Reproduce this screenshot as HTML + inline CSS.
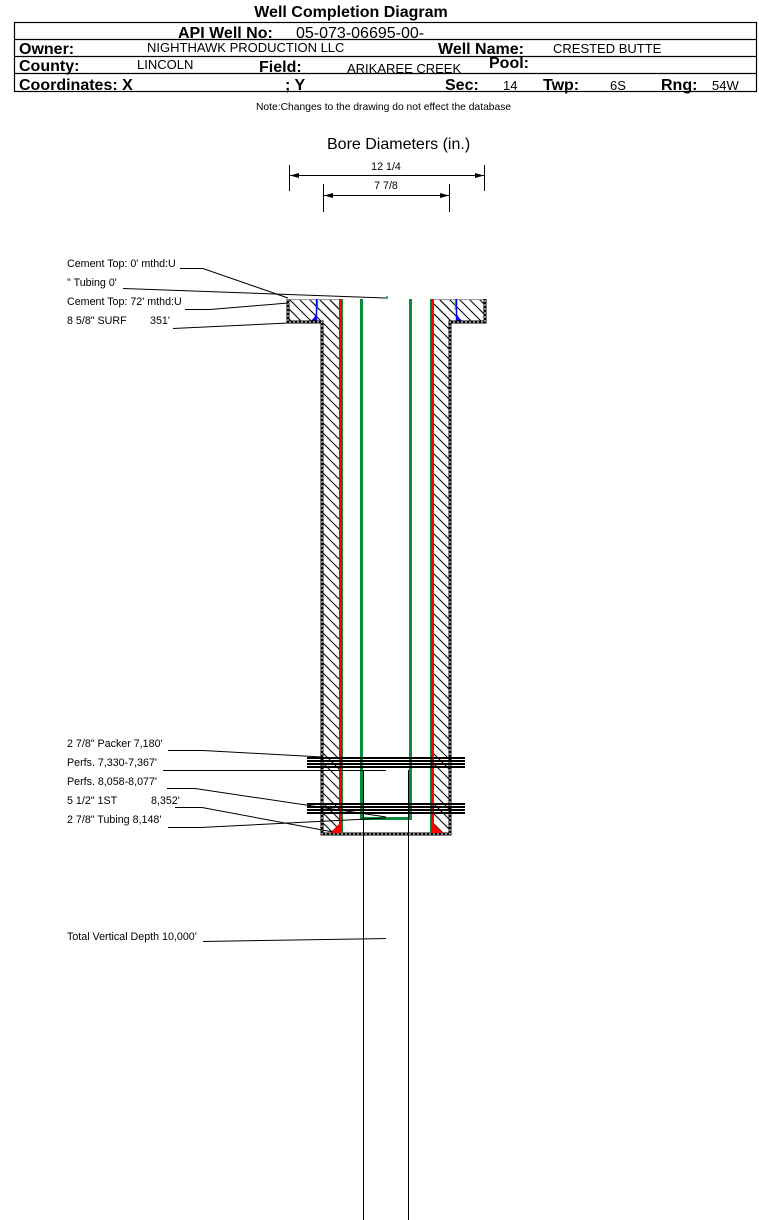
<!DOCTYPE html>
<html>
<head>
<meta charset="utf-8">
<style>
  html,body{margin:0;padding:0;background:#fff;}
  svg{display:block;}
  text{font-family:"Liberation Sans",Arial,sans-serif;fill:#000;}
  .b{font-weight:bold;font-size:16px;}
  .v{font-size:13px;}
  .l{font-size:10.7px;}
</style>
</head>
<body>
<svg width="759" height="1220" viewBox="0 0 759 1220" xmlns="http://www.w3.org/2000/svg">
  <defs>
    <pattern id="h" patternUnits="userSpaceOnUse" width="10" height="10">
      <path d="M0,0 L10,10 M-1,9 L1,11 M9,-1 L11,1" stroke="#000" stroke-width="1"/>
    </pattern>
    <marker id="al" markerWidth="10" markerHeight="6" refX="0" refY="3" orient="auto" markerUnits="userSpaceOnUse">
      <path d="M0,3 L9,0.5 L9,5.5 Z" fill="#000"/>
    </marker>
    <marker id="ar" markerWidth="10" markerHeight="6" refX="9" refY="3" orient="auto" markerUnits="userSpaceOnUse">
      <path d="M9,3 L0,0.5 L0,5.5 Z" fill="#000"/>
    </marker>
  </defs>

  <!-- Header -->
  <text x="351" y="17" class="b" text-anchor="middle">Well Completion Diagram</text>
  <rect x="14.5" y="22.5" width="742" height="69" fill="none" stroke="#000" stroke-width="1.2"/>
  <line x1="14.5" y1="39.5" x2="756.5" y2="39.5" stroke="#000" stroke-width="1.2"/>
  <line x1="14.5" y1="56.5" x2="756.5" y2="56.5" stroke="#000" stroke-width="1.2"/>
  <line x1="14.5" y1="73.5" x2="756.5" y2="73.5" stroke="#000" stroke-width="1.2"/>

  <text x="178" y="38" class="b">API Well No:</text>
  <text x="296" y="38" style="font-size:16px">05-073-06695-00-</text>

  <text x="19" y="54" class="b">Owner:</text>
  <text x="147" y="52" class="v">NIGHTHAWK PRODUCTION LLC</text>
  <text x="438" y="54" class="b">Well Name:</text>
  <text x="553" y="53" class="v">CRESTED BUTTE</text>

  <text x="19" y="71" class="b">County:</text>
  <text x="137" y="69" class="v">LINCOLN</text>
  <text x="259" y="72" class="b">Field:</text>
  <text x="347" y="73" class="v">ARIKAREE CREEK</text>
  <text x="489" y="68" class="b">Pool:</text>

  <text x="19" y="90" class="b">Coordinates: X</text>
  <text x="285" y="90" class="b">; Y</text>
  <text x="445" y="90" class="b">Sec:</text>
  <text x="503" y="90" class="v">14</text>
  <text x="543" y="90" class="b">Twp:</text>
  <text x="610" y="90" class="v">6S</text>
  <text x="661" y="90" class="b">Rng:</text>
  <text x="712" y="90" class="v">54W</text>

  <text x="256" y="110" style="font-size:10.3px">Note:Changes to the drawing do not effect the database</text>

  <!-- Bore diameters -->
  <text x="327" y="149" style="font-size:16px">Bore Diameters (in.)</text>
  <line x1="289.5" y1="165" x2="289.5" y2="191" stroke="#000" stroke-width="1"/>
  <line x1="484.5" y1="165" x2="484.5" y2="191" stroke="#000" stroke-width="1"/>
  <line x1="290" y1="175.5" x2="484" y2="175.5" stroke="#000" stroke-width="1" marker-start="url(#al)" marker-end="url(#ar)"/>
  <text x="386" y="170" class="l" text-anchor="middle">12 1/4</text>

  <line x1="323.5" y1="184" x2="323.5" y2="212" stroke="#000" stroke-width="1"/>
  <line x1="449.5" y1="184" x2="449.5" y2="212" stroke="#000" stroke-width="1"/>
  <line x1="324" y1="195.5" x2="449" y2="195.5" stroke="#000" stroke-width="1" marker-start="url(#al)" marker-end="url(#ar)"/>
  <text x="386" y="189" class="l" text-anchor="middle">7 7/8</text>

  <!-- Hatched cement -->
  <rect x="288" y="299" width="52" height="23" fill="url(#h)"/>
  <rect x="322" y="299" width="18" height="535" fill="url(#h)"/>
  <rect x="432" y="299" width="53" height="23" fill="url(#h)"/>
  <rect x="432" y="299" width="18" height="535" fill="url(#h)"/>

  <!-- flange top lines -->
  <line x1="288" y1="299.5" x2="340" y2="299.5" stroke="#999" stroke-width="1"/>
  <line x1="432" y1="299.5" x2="485" y2="299.5" stroke="#999" stroke-width="1"/>

  <!-- blue cement tops -->
  <line x1="316.5" y1="299" x2="316.5" y2="322" stroke="#0000ff" stroke-width="1.5"/>
  <path d="M308,322 L317,322 L317,309 Q316,319 308,322 Z" fill="#0000ff"/>
  <line x1="317.8" y1="299" x2="317.8" y2="310" stroke="#0a8a3c" stroke-width="0.8"/>
  <line x1="456.5" y1="299" x2="456.5" y2="322" stroke="#0000ff" stroke-width="1.5"/>
  <path d="M456,309 Q457,319 465,322 L456,322 Z" fill="#0000ff"/>
  <line x1="455.2" y1="299" x2="455.2" y2="310" stroke="#0a8a3c" stroke-width="0.8"/>

  <!-- outer hole boundary (dotted thick) -->
  <path d="M288,299 L288,322 L322,322 L322,834 L450,834 L450,322 L485,322 L485,299" fill="none" stroke="#000" stroke-width="3"/>
  <path d="M288,299 L288,322 L322,322 L322,834 L450,834 L450,322 L485,322 L485,299" fill="none" stroke="#fff" stroke-width="1" stroke-dasharray="2 2"/>

  <!-- casing (red) -->
  <line x1="340.5" y1="299" x2="340.5" y2="833" stroke="#ff0000" stroke-width="3"/>
  <line x1="342.5" y1="299" x2="342.5" y2="833" stroke="#0a8a3c" stroke-width="1"/>
  <line x1="432.5" y1="299" x2="432.5" y2="833" stroke="#ff0000" stroke-width="3"/>
  <line x1="430.5" y1="299" x2="430.5" y2="833" stroke="#0a8a3c" stroke-width="1"/>
  <path d="M330,833 L342,833 L342,821 Z" fill="#ff0000"/>
  <path d="M431,821 L431,833 L443,833 Z" fill="#ff0000"/>

  <!-- tubing (green) -->
  <line x1="361.5" y1="299" x2="361.5" y2="820" stroke="#0a8a3c" stroke-width="3"/>
  <line x1="410.5" y1="299" x2="410.5" y2="820" stroke="#0a8a3c" stroke-width="3"/>
  <line x1="360" y1="818.5" x2="412" y2="818.5" stroke="#0a8a3c" stroke-width="3"/>
  <line x1="387" y1="296" x2="387" y2="299" stroke="#0a8a3c" stroke-width="1.5"/>

  <!-- open hole lines -->
  <line x1="363.5" y1="770" x2="363.5" y2="1220" stroke="#000" stroke-width="1"/>
  <line x1="408.5" y1="770" x2="408.5" y2="1220" stroke="#000" stroke-width="1"/>

  <!-- packers / perfs -->
  <g stroke="#000" stroke-width="2">
    <line x1="307" y1="758" x2="465" y2="758"/>
    <line x1="307" y1="761" x2="465" y2="761"/>
    <line x1="307" y1="764" x2="465" y2="764"/>
    <line x1="307" y1="767" x2="465" y2="767"/>
    <line x1="307" y1="804" x2="465" y2="804"/>
    <line x1="307" y1="807" x2="465" y2="807"/>
    <line x1="307" y1="810" x2="465" y2="810"/>
    <line x1="307" y1="813" x2="465" y2="813"/>
  </g>

  <!-- Leader lines -->
  <g fill="none" stroke="#000" stroke-width="1">
    <polyline points="180,268.5 203,268.5 288,298"/>
    <polyline points="123,288.5 386,298"/>
    <polyline points="185,309.5 210,309.5 288,303"/>
    <polyline points="173,328.5 288,323"/>
    <polyline points="168,750.5 203,750.5 322,757"/>
    <polyline points="163,770.5 386,770.5"/>
    <polyline points="167,788.5 195,788.5 386,817"/>
    <polyline points="175,807.5 202,807.5 333,832"/>
    <polyline points="168,827.5 200,827.5 386,818"/>
    <polyline points="203,941.5 386,938.5"/>
  </g>

  <!-- Labels -->
  <text x="67" y="267" class="l">Cement Top: 0' mthd:U</text>
  <text x="67" y="286" class="l">" Tubing 0'</text>
  <text x="67" y="305" class="l">Cement Top: 72' mthd:U</text>
  <text x="67" y="324" class="l">8 5/8" SURF</text>
  <text x="150" y="324" class="l">351'</text>

  <text x="67" y="747" class="l">2 7/8" Packer 7,180'</text>
  <text x="67" y="766" class="l">Perfs. 7,330-7,367'</text>
  <text x="67" y="785" class="l">Perfs. 8,058-8,077'</text>
  <text x="67" y="804" class="l">5 1/2" 1ST</text>
  <text x="151" y="804" class="l">8,352'</text>
  <text x="67" y="823" class="l">2 7/8" Tubing 8,148'</text>

  <text x="67" y="940" class="l">Total Vertical Depth 10,000'</text>
</svg>
</body>
</html>
